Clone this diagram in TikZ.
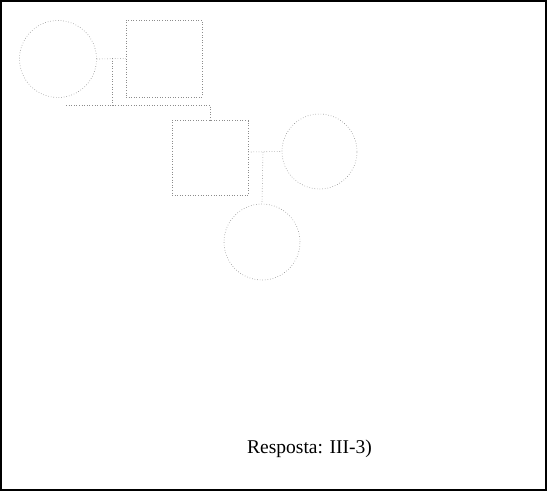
\documentclass[tikz,border=0pt]{standalone}
\usepackage{fontspec}
\setmainfont{Liberation Serif}
\begin{document}
\begin{tikzpicture}[x=1pt,y=-1pt,
  ped/.style={draw=black!45,dotted,line width=0.6pt},
  lnk/.style={draw=black!45,dotted,line width=0.6pt}]
\useasboundingbox (0,0) rectangle (547,491);
\draw[line width=1.3pt] (1,1) rectangle (546,490);
\node[ped,circle,minimum size=77pt,inner sep=0pt] (c1) at (58,59) {};
\node[ped,rectangle,minimum width=76pt,minimum height=77pt,inner sep=0pt] (s1) at (164,58.5) {};
\node[ped,rectangle,minimum width=76pt,minimum height=75pt,inner sep=0pt] (s2) at (210,158) {};
\node[ped,circle,minimum size=75pt,inner sep=0pt] (c2) at (319.5,151.5) {};
\node[ped,circle,minimum size=76pt,inner sep=0pt] (c3) at (262,242) {};
\coordinate (m1) at (112,58);
\coordinate (d1) at (112,105);
\coordinate (l1) at (66,105);
\coordinate (r1) at (210,105);
\coordinate (m2) at (263,152);
\draw[lnk] (c1.east) -- (s1.west);
\draw[lnk] (m1) -- (d1);
\draw[lnk] (l1) -- (r1) -- (s2.north);
\draw[lnk] (s2.east |- m2) -- (c2.west);
\draw[lnk] (m2) -- (c3.north);
\node[anchor=base west,font=\fontsize{19.5}{22}\selectfont,inner sep=0pt] (t) at (247,453) {Resposta: III-3)};
\end{tikzpicture}
\end{document}
